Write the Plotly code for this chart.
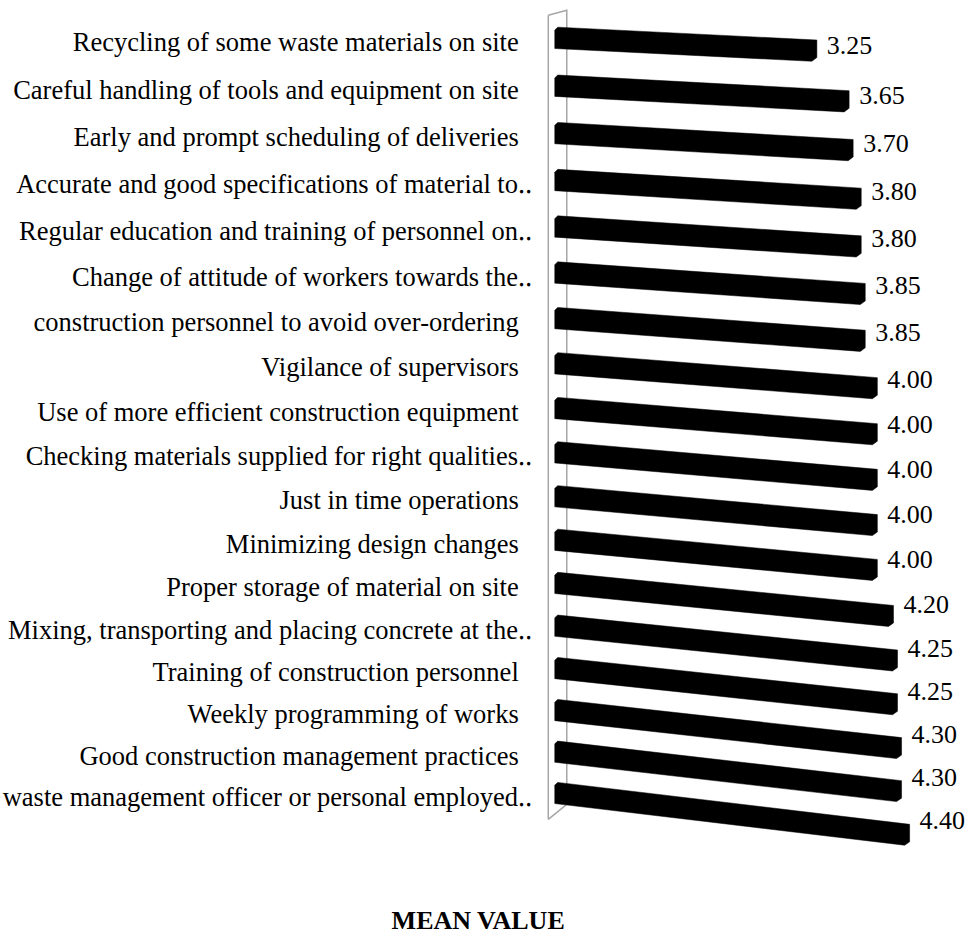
import math
import plotly.graph_objects as go

# Mean value of each waste-minimisation measure, top row first
categories = [
    "Recycling of some waste materials on site",
    "Careful handling of tools and equipment on site",
    "Early and prompt scheduling of deliveries",
    "Accurate and good specifications of material to\u2025",
    "Regular education and training of personnel on\u2025",
    "Change of attitude of workers towards the\u2025",
    "construction personnel to avoid over-ordering",
    "Vigilance of supervisors",
    "Use of more efficient construction equipment",
    "Checking materials supplied for right qualities\u2025",
    "Just in time operations",
    "Minimizing design changes",
    "Proper storage of material on site",
    "Mixing, transporting and placing concrete at the\u2025",
    "Training of construction personnel",
    "Weekly programming of works",
    "Good construction management practices",
    "waste management officer or personal employed\u2025",
]
mean_values = [3.25, 3.65, 3.70, 3.80, 3.80, 3.85, 3.85, 4.00, 4.00,
               4.00, 4.00, 4.00, 4.20, 4.25, 4.25, 4.30, 4.30, 4.40]
axis_title = "MEAN VALUE"

# ---- page / axes geometry -------------------------------------------------
W, H = 968, 935
M_L, M_R, M_T, M_B = 533, 10, 4, 85
X_RANGE = (-0.27, 5.0)
ROW_BASE = 100.0            # rows sit at ROW_BASE + i on a log axis -> receding look
Y_LO, Y_HI = 99.3, 118.4

plot_w = W - M_L - M_R
plot_h = H - M_T - M_B
px_per_val = plot_w / (X_RANGE[1] - X_RANGE[0])
px_per_ln = plot_h / math.log(Y_HI / Y_LO)

FONT = "Liberation Serif, Times New Roman, serif"
BAR_HALF = 10.75            # half bar thickness, px
WALL_COLOR = "#A6A6A6"


def y_shift(y, px):
    """Move a row-axis value by px screen pixels (positive = downward)."""
    return y * math.exp(px / px_per_ln)


def drop(i):
    """Screen pixels a bar edge falls per unit of value (perspective tilt)."""
    return 4.0 + 0.33 * i


fig = go.Figure()

# thin side wall behind the bars at value 0
n = len(categories)
wl, wr = -6.5 / px_per_val, 12.0 / px_per_val
wall_x = [wl, wr, wr, wl, wl]
wall_y = [
    y_shift(ROW_BASE, -22.5),
    y_shift(ROW_BASE, -27.5),
    y_shift(ROW_BASE + n - 1, 11.5),
    y_shift(ROW_BASE + n - 1, 26.5),
    y_shift(ROW_BASE, -22.5),
]
fig.add_trace(go.Scatter(x=wall_x, y=wall_y, mode="lines",
                         line=dict(color=WALL_COLOR, width=1.5),
                         hoverinfo="skip", showlegend=False))

# black 3-D style bars: tilted faces with a small bevel at each end
cham = 3.0 / px_per_val
bevel = 5.0 / px_per_val
for i, (cat, v) in enumerate(zip(categories, mean_values)):
    yc = ROW_BASE + i
    s = drop(i)

    def edge(x, side):
        return side * BAR_HALF + s * x

    xs = [0, cham, v, v, v - bevel, 0, 0]
    offs = [edge(0, -1) + 3, edge(cham, -1), edge(v, -1),
            edge(v, 1) - 4, edge(v - bevel, 1), edge(0, 1), edge(0, -1) + 3]
    ys = [y_shift(yc, o) for o in offs]
    fig.add_trace(go.Scatter(x=xs, y=ys, mode="lines", fill="toself",
                             fillcolor="#000000", line=dict(color="#000000", width=0.5),
                             name=cat, hovertemplate=f"{cat}: {v:.2f}<extra></extra>",
                             showlegend=False))

# value labels at the bar ends
lab_x = [v + 10.0 / px_per_val for v in mean_values]
lab_y = [y_shift(ROW_BASE + i, 0.67 * drop(i) * v + 1) for i, v in enumerate(mean_values)]
fig.add_trace(go.Scatter(x=lab_x, y=lab_y, mode="text",
                         text=[f"{v:.2f}" for v in mean_values],
                         textposition="middle right",
                         textfont=dict(family=FONT, size=26, color="#000000"),
                         cliponaxis=False, hoverinfo="skip", showlegend=False))

tick_text = [c if c.endswith("\u2025") else c + "\u00a0\u00a0" for c in categories]

fig.update_layout(
    width=W, height=H,
    margin=dict(l=M_L, r=M_R, t=M_T, b=M_B, autoexpand=False),
    paper_bgcolor="#FFFFFF", plot_bgcolor="#FFFFFF",
    font=dict(family=FONT, color="#000000"),
    title=dict(text=f"<b>{axis_title}</b>", x=0.494, xanchor="center",
               y=1 - 920 / H, yanchor="middle", yref="container",
               font=dict(family=FONT, size=26, color="#000000")),
    xaxis=dict(range=list(X_RANGE), visible=False, fixedrange=True),
    yaxis=dict(type="log",
               range=[math.log10(Y_HI), math.log10(Y_LO)],
               tickvals=[ROW_BASE + i for i in range(n)],
               ticktext=tick_text,
               tickfont=dict(family=FONT, size=26.5, color="#000000"),
               ticks="", showgrid=False, zeroline=False, showline=False,
               ticklabelstandoff=0, ticklabelshift=-4, fixedrange=True),
)

fig.write_html("out.html")
